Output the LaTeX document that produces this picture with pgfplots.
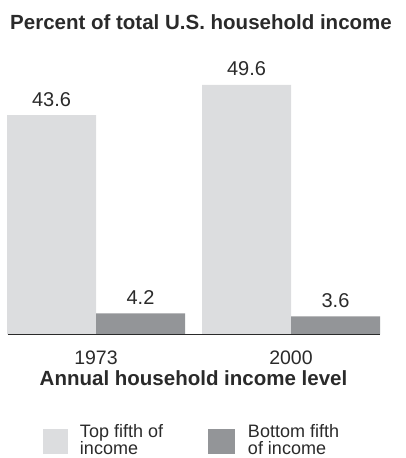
\documentclass[border=0pt]{standalone}
\usepackage{pgfplots}
\pgfplotsset{compat=1.18}
\usepackage{fontspec}
\setmainfont{Liberation Sans}
\definecolor{lightbar}{HTML}{DCDDDF}
\definecolor{darkbar}{HTML}{939598}
\definecolor{txt}{HTML}{2A2A2A}
\begin{document}
\begin{tikzpicture}
\useasboundingbox (0,0) rectangle (406bp,458bp);
\begin{axis}[
  at={(8bp,123.5bp)}, anchor=south west,
  scale only axis, width=372bp, height=249.7bp,
  xmin=0, xmax=372, ymin=0, ymax=49.6,
  ybar=0pt, bar width=89bp,
  axis on top,
  axis x line=bottom, axis y line=none,
  axis line style={-, draw=txt, line width=1.6bp},
  xtick={88,283}, xticklabels={1973,2000},
  major tick length=0pt,
  xticklabel style={anchor=base, yshift=-30.5bp, font=\fontsize{19.5bp}{22bp}\selectfont, text=txt},
  clip=false,
  nodes near coords={\pgfmathprintnumber[fixed,precision=1,fixed zerofill,assume math mode=true]{\pgfplotspointmeta}},
  nodes near coords style={anchor=base, yshift=9bp, font=\fontsize{20bp}{24bp}\selectfont, text=txt},
  legend columns=2,
  legend style={draw=none, fill=none, inner sep=0pt, outer sep=0pt,
    at={(rel axis cs:0,0)}, anchor=north west, xshift=35bp, yshift=-90bp,
    font=\fontsize{18bp}{17bp}\selectfont, text=txt,
    nodes={inner sep=0pt}, column sep=0pt},
]
\addplot[fill=lightbar, draw=none,
  legend image code/.code={\fill[lightbar] (0bp,-22bp) rectangle (25bp,3bp); \path (37bp,0bp);}]
  coordinates {(88,43.6) (283,49.6)};
\addlegendentry{\parbox[t]{128bp}{Top fifth of\\income}}
\addplot[fill=darkbar, draw=none,
  legend image code/.code={\fill[darkbar] (0bp,-22bp) rectangle (27bp,3bp); \path (40bp,0bp);}]
  coordinates {(88,4.2) (283,3.6)};
\addlegendentry{\parbox[t]{100bp}{Bottom fifth\\of income}}
\end{axis}
\node[anchor=base, font=\fontsize{20.5bp}{24bp}\selectfont\bfseries, text=txt] at (201bp,428bp) {Percent of total U.S. household income};
\node[anchor=base, font=\fontsize{20.5bp}{24bp}\selectfont\bfseries, text=txt] at (193.5bp,72bp) {Annual household income level};
\end{tikzpicture}
\end{document}
